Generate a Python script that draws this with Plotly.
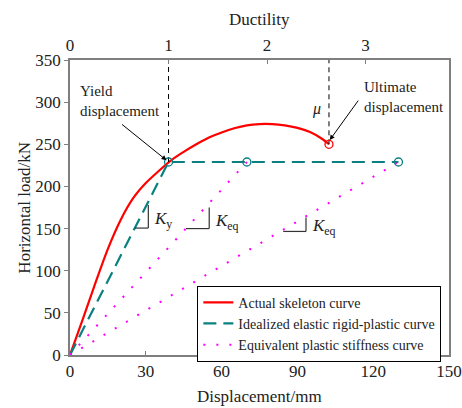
import plotly.graph_objects as go

# Actual skeleton curve
skel_disp = [0, 5, 10, 15, 20, 25, 30, 35, 40, 45, 50, 55, 60, 65, 70, 75, 80, 85, 90, 95, 100, 102.5]
skel_load = [0, 42, 85, 126, 160, 186, 204, 218, 231, 241, 250, 258, 264, 269, 272.5, 274, 274, 272.5, 269.5, 264.5, 256, 250]

# Idealized elastic rigid-plastic curve
ideal_disp = [0, 39, 130]
ideal_load = [0, 229, 229]

# Equivalent plastic stiffness lines
eq1_disp = [0, 70]
eq1_load = [0, 229]
eq2_disp = [0, 130]
eq2_load = [0, 229]

# key points
yield_disp, yield_load = 39, 229
ult_disp, ult_load = 102.5, 250
circle_disp = [39, 70, 130]
circle_load = [229, 229, 229]

x_ticks = [0, 30, 60, 90, 120, 150]
y_ticks = [0, 50, 100, 150, 200, 250, 300, 350]
duct_ticks = [0, 1, 2, 3]

FONT = "Times New Roman, Liberation Serif, serif"
RED = "#FF0000"
TEAL = "#0A8080"
MAG = "#FF00FF"
GREY = "#7F7F7F"
TXT = "#222"

fig = go.Figure()

fig.add_trace(go.Scatter(x=skel_disp, y=skel_load, mode="lines",
                         line=dict(color=RED, width=2.2, shape="spline", smoothing=0.8),
                         name="Actual skeleton curve"))
fig.add_trace(go.Scatter(x=ideal_disp, y=ideal_load, mode="lines",
                         line=dict(color=TEAL, width=2.2, dash="13px,7px"),
                         name="Idealized elastic rigid-plastic curve"))
fig.add_trace(go.Scatter(x=eq1_disp, y=eq1_load, mode="lines",
                         line=dict(color=MAG, width=2, dash="2px,11px"),
                         name="Equivalent plastic stiffness curve"))
fig.add_trace(go.Scatter(x=eq2_disp, y=eq2_load, mode="lines",
                         line=dict(color=MAG, width=2, dash="2px,11px"), showlegend=False))

# vertical dashed reference lines
fig.add_trace(go.Scatter(x=[yield_disp, yield_disp], y=[yield_load, 350], mode="lines",
                         line=dict(color="black", width=1, dash="5px,4px"), showlegend=False))
fig.add_trace(go.Scatter(x=[ult_disp, ult_disp], y=[ult_load, 350], mode="lines",
                         line=dict(color="black", width=1, dash="5px,4px"), showlegend=False))

# markers
fig.add_trace(go.Scatter(x=circle_disp, y=circle_load, mode="markers",
                         marker=dict(symbol="circle-open", color=TEAL, size=8, line=dict(width=1.3)),
                         showlegend=False))
fig.add_trace(go.Scatter(x=[ult_disp], y=[ult_load], mode="markers",
                         marker=dict(symbol="circle-open", color=RED, size=8, line=dict(width=1.3)),
                         showlegend=False))

# top axis dummy trace
fig.add_trace(go.Scatter(x=[0], y=[0], xaxis="x2", mode="markers", marker=dict(opacity=0), showlegend=False,
                         hoverinfo="skip"))

# stiffness triangles
tri = [
    (25.7, 31.0, 150.6, 178),
    (45.9, 55.1, 150, 175),
    (84.4, 93.4, 146.6, 163),
]
for x0, x1, y0, y1 in tri:
    fig.add_shape(type="line", x0=x0, x1=x1, y0=y0, y1=y0, line=dict(color="#333", width=1.2))
    fig.add_shape(type="line", x0=x1, x1=x1, y0=y0, y1=y1, line=dict(color="#333", width=1.2))

ann_font = dict(family=FONT, size=15, color=TXT)
labels = [
    (32.3, 160, "<i>K</i><sub>y</sub>"),
    (56.6, 158, "<i>K</i><sub>eq</sub>"),
    (95.0, 152, "<i>K</i><sub>eq</sub>"),
]
for x, y, t in labels:
    fig.add_annotation(x=x, y=y, text=t, showarrow=False, xanchor="left", font=dict(family=FONT, size=17, color=TXT))

fig.add_annotation(x=3.2, y=301, text="Yield<br>displacement", showarrow=False, xanchor="left", align="left",
                   font=ann_font)
fig.add_annotation(x=115.5, y=306, text="Ultimate<br>displacement", showarrow=False, xanchor="left", align="left",
                   font=ann_font)
fig.add_annotation(x=97.5, y=292, text="<i>μ</i>", showarrow=False, font=dict(family=FONT, size=16, color=TXT))

fig.add_annotation(x=38.2, y=231, ax=20, ay=275, xref="x", yref="y", axref="x", ayref="y", text="",
                   showarrow=True, arrowhead=2, arrowsize=1, arrowwidth=1, arrowcolor="black")
fig.add_annotation(x=102.8, y=255, ax=114.5, ay=303.6, xref="x", yref="y", axref="x", ayref="y", text="",
                   showarrow=True, arrowhead=2, arrowsize=1, arrowwidth=1, arrowcolor="black")

# axis titles as annotations (paper coords)
title_font = dict(family=FONT, size=17, color=TXT)
fig.add_annotation(xref="paper", yref="paper", x=0.5, y=-0.139, yanchor="middle", text="Displacement/mm",
                   showarrow=False, font=title_font)
fig.add_annotation(xref="paper", yref="paper", x=0.5, y=1.136, yanchor="middle", text="Ductility",
                   showarrow=False, font=title_font)
fig.add_annotation(xref="paper", yref="paper", x=-0.121, y=0.5, xanchor="center", yanchor="middle",
                   text="Horizontal load/kN", textangle=-90, showarrow=False, font=title_font)

axis_common = dict(showline=True, linecolor=GREY, linewidth=1.5, showgrid=False, zeroline=False,
                   ticklen=4, tickcolor=GREY, automargin=False,
                   tickfont=dict(family=FONT, size=17, color=TXT))

fig.update_layout(
    width=462, height=408,
    margin=dict(l=70, r=13, t=60, b=53),
    paper_bgcolor="white", plot_bgcolor="white",
    font=dict(family=FONT, color=TXT),
    xaxis=dict(range=[0, 150], tickvals=x_ticks, ticks="inside", **axis_common),
    xaxis2=dict(range=[0, 150 / 39.0], tickvals=duct_ticks, overlaying="x", side="top", ticks="inside",
                **axis_common),
    yaxis=dict(range=[0, 350], tickvals=y_ticks, mirror=True, ticks="outside", **axis_common),
    legend=dict(x=0.336, y=0.235, xanchor="left", yanchor="top", bgcolor="white",
                bordercolor="black", borderwidth=1, font=dict(family=FONT, size=14, color=TXT),
                tracegroupgap=0, itemwidth=30),
    showlegend=True,
)

fig.write_html("out.html", config={"displayModeBar": False},
               post_script="document.body.style.margin='0';")
